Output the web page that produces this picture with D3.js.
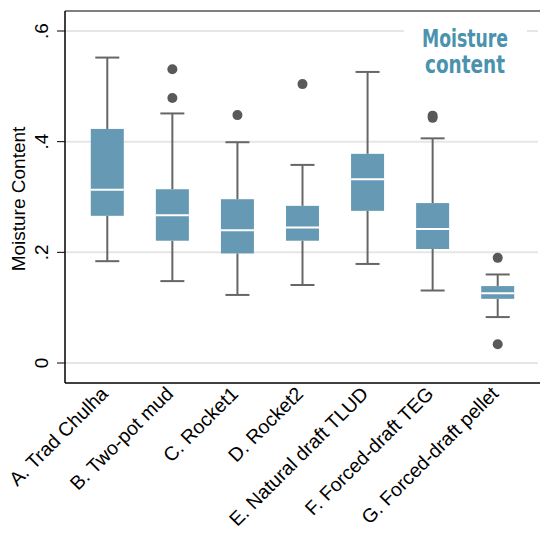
<!DOCTYPE html>
<html><head><meta charset="utf-8">
<script src="https://cdn.jsdelivr.net/npm/d3@7"></script>
<style>body{margin:0;background:#fff}svg{display:block}text{font-family:"Liberation Sans",Arial,sans-serif}</style>
</head><body><svg id="c" width="540" height="536"></svg>
<script>
const categories = ["A. Trad Chulha","B. Two-pot mud","C. Rocket1","D. Rocket2","E. Natural draft TLUD","F. Forced-draft TEG","G. Forced-draft pellet"];
const lowerWhisker = [0.184,0.148,0.123,0.141,0.179,0.131,0.083];
const q1 = [0.266,0.221,0.198,0.221,0.275,0.206,0.116];
const median = [0.313,0.267,0.240,0.245,0.332,0.242,0.126];
const q3 = [0.423,0.314,0.296,0.284,0.378,0.289,0.139];
const upperWhisker = [0.552,0.451,0.399,0.358,0.526,0.406,0.160];
const outliers = [[],[0.531,0.479],[0.448],[0.504],[],[0.443,0.447],[0.190,0.034]];
const yTicks = [0,0.2,0.4,0.6];
const yTickLabels = ["0",".2",".4",".6"];
const yLabel = "Moisture Content";
const titleLines = ["Moisture","content"];

const svg = d3.select("#c");
const L=65, R=540, T=11, B=383;
const x = d3.scalePoint().domain(categories).range([L,R]).padding(0.65);
const y = d3.scaleLinear().domain([0,0.6]).range([363,31]);
const boxColor="#6699b3", whiskColor="#666", outColor="#595959";

// grid
svg.append("g").selectAll("line").data(yTicks).join("line")
  .attr("x1",L).attr("x2",538).attr("y1",d=>y(d)).attr("y2",d=>y(d))
  .attr("stroke","#e6e6e6").attr("stroke-width",2);

// annotation background + text
svg.append("rect").attr("x",404).attr("y",18).attr("width",123).attr("height",62).attr("fill","#fff");
const tw=[86,80];
titleLines.forEach((t,i)=>{
  svg.append("text").attr("x",465).attr("y",[47,72.5][i]).attr("text-anchor","middle")
   .style("font-family","'DejaVu Sans Condensed','DejaVu Sans',sans-serif").style("font-weight","bold")
   .style("font-size","24px").attr("fill","#4a92ad")
   .attr("textLength",tw[i]).attr("lengthAdjust","spacingAndGlyphs").text(t);
});

// frame
svg.append("line").attr("x1",L).attr("x2",R).attr("y1",T).attr("y2",T).attr("stroke","#555").attr("stroke-width",1.5);

const bw=33, cw=24;
const g = svg.append("g").selectAll("g").data(categories).join("g");
// whiskers
g.append("line").attr("x1",d=>x(d)).attr("x2",d=>x(d)).attr("y1",(d,i)=>y(upperWhisker[i])).attr("y2",(d,i)=>y(q3[i])).attr("stroke",whiskColor).attr("stroke-width",2);
g.append("line").attr("x1",d=>x(d)).attr("x2",d=>x(d)).attr("y1",(d,i)=>y(lowerWhisker[i])).attr("y2",(d,i)=>y(q1[i])).attr("stroke",whiskColor).attr("stroke-width",2);
g.append("line").attr("x1",d=>x(d)-cw/2).attr("x2",d=>x(d)+cw/2).attr("y1",(d,i)=>y(upperWhisker[i])).attr("y2",(d,i)=>y(upperWhisker[i])).attr("stroke",whiskColor).attr("stroke-width",2);
g.append("line").attr("x1",d=>x(d)-cw/2).attr("x2",d=>x(d)+cw/2).attr("y1",(d,i)=>y(lowerWhisker[i])).attr("y2",(d,i)=>y(lowerWhisker[i])).attr("stroke",whiskColor).attr("stroke-width",2);
// box
g.append("rect").attr("x",d=>x(d)-bw/2).attr("width",bw).attr("y",(d,i)=>y(q3[i])).attr("height",(d,i)=>y(q1[i])-y(q3[i])).attr("fill",boxColor);
g.append("line").attr("x1",d=>x(d)-bw/2).attr("x2",d=>x(d)+bw/2).attr("y1",(d,i)=>y(median[i])).attr("y2",(d,i)=>y(median[i])).attr("stroke","#fff").attr("stroke-width",2);
// outliers
g.each(function(d,i){
  d3.select(this).selectAll("circle").data(outliers[i]).join("circle")
   .attr("cx",x(d)).attr("cy",v=>y(v)).attr("r",5).attr("fill",outColor);
});

// axes
svg.append("line").attr("x1",L).attr("x2",L).attr("y1",T).attr("y2",B).attr("stroke","#000").attr("stroke-width",1.5);
svg.append("line").attr("x1",L).attr("x2",R).attr("y1",B).attr("y2",B).attr("stroke","#000").attr("stroke-width",1.5);
svg.append("g").selectAll("line").data(yTicks).join("line")
  .attr("x1",57).attr("x2",L).attr("y1",d=>y(d)).attr("y2",d=>y(d)).attr("stroke","#000").attr("stroke-width",1);
svg.append("g").selectAll("text").data(yTicks).join("text")
  .attr("transform",d=>`translate(48,${y(d)}) rotate(-90)`).attr("text-anchor","middle")
  .style("font-size","19px").attr("fill","#000").text((d,i)=>yTickLabels[i]);
svg.append("text").attr("transform","translate(25,199) rotate(-90)").attr("text-anchor","middle")
  .style("font-size","19px").attr("fill","#000").text(yLabel);
svg.append("g").selectAll("text").data(categories).join("text")
  .attr("transform",d=>`translate(${x(d)+2},${395}) rotate(-45)`).attr("text-anchor","end")
  .style("font-size","19.5px").attr("fill","#000").text(d=>d);
</script></body></html>
